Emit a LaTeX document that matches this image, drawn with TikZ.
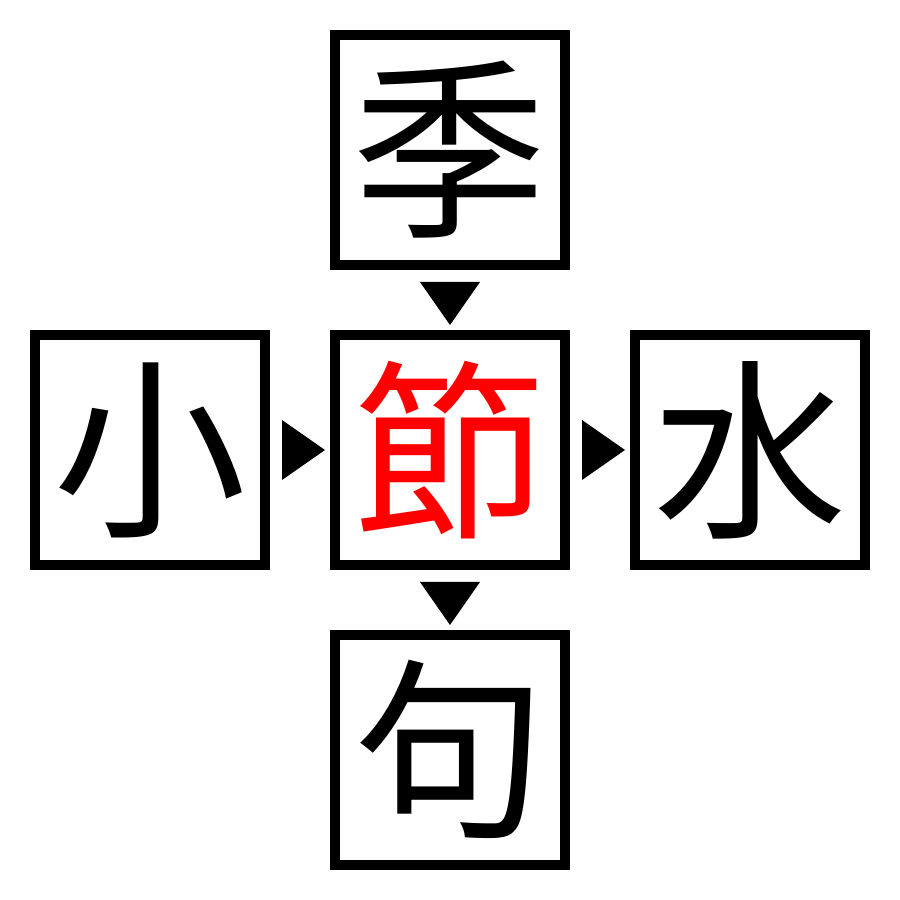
\documentclass[tikz,border=0pt]{standalone}
\usepackage{fontspec}
\newfontfamily\jp{Noto Sans CJK JP}
\usetikzlibrary{positioning,calc}

\begin{document}
\begin{tikzpicture}[line width=0.1cm,
    kanji/.style={draw,minimum size=2.3cm,inner sep=0pt,font=\jp\fontsize{55}{55}\selectfont},
    tri/.style={fill=black,draw=none}]
    \useasboundingbox (0,0) rectangle (9,9);
    \node[kanji,text=red] (C) at (4.5,4.5) {節};
    \node[kanji] (T) at (4.5,7.5) {季};
    \node[kanji] (L) at (1.5,4.5) {小};
    \node[kanji] (R) at (7.5,4.5) {水};
    \node[kanji] (B) at (4.5,1.5) {句};

    % arrows between the boxes
    \fill[tri] ($(T.south)+(-0.3,-0.12)$)--($(T.south)+(0.3,-0.12)$)--($(T.south)+(0,-0.55)$)--cycle;
    \fill[tri] ($(C.south)+(-0.3,-0.12)$)--($(C.south)+(0.3,-0.12)$)--($(C.south)+(0,-0.55)$)--cycle;
    \fill[tri] ($(L.east)+(0.12,0.3)$)--($(L.east)+(0.12,-0.3)$)--($(L.east)+(0.55,0)$)--cycle;
    \fill[tri] ($(C.east)+(0.12,0.3)$)--($(C.east)+(0.12,-0.3)$)--($(C.east)+(0.55,0)$)--cycle;
\end{tikzpicture}
\end{document}
